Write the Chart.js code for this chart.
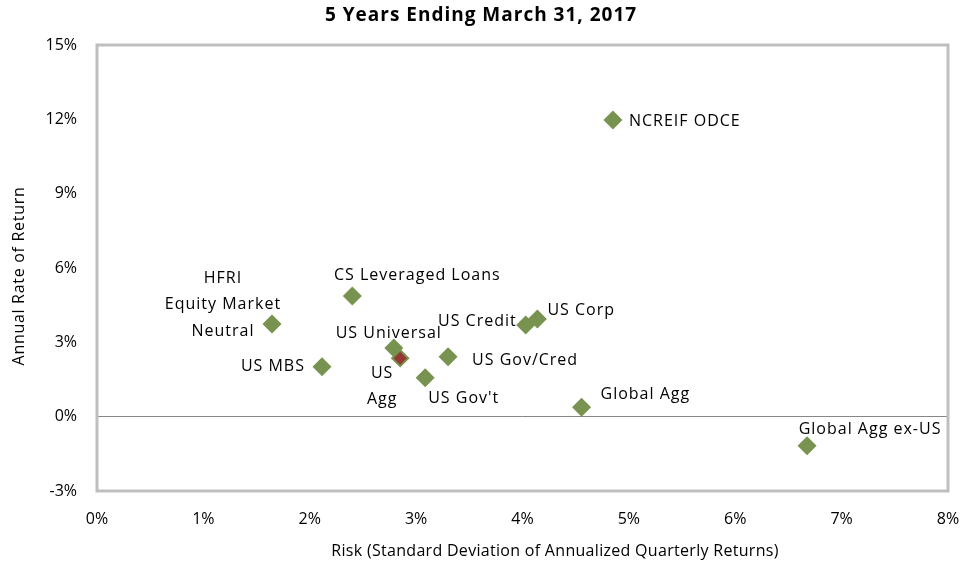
<!DOCTYPE html>
<html>
<head>
<meta charset="utf-8">
<script src="https://cdn.jsdelivr.net/npm/chart.js@4.4.1/dist/chart.umd.min.js"></script>
<style>
  html, body { margin: 0; padding: 0; background: #fff; }
  #wrap { width: 965px; height: 568px; position: relative; }
</style>
</head>
<body>
<div id="wrap"><canvas id="c" width="965" height="568"></canvas></div>
<script>
// ---- Data ----
const chartTitle = '5 Years Ending March 31, 2017';
const xAxisTitle = 'Risk (Standard Deviation of Annualized Quarterly Returns)';
const yAxisTitle = 'Annual Rate of Return';

const assetNames  = ['NCREIF ODCE', 'CS Leveraged Loans', 'HFRI Equity Market Neutral', 'US MBS', 'US Universal', 'US Gov/Cred', "US Gov't", 'US Credit', 'US Corp', 'Global Agg', 'Global Agg ex-US'];
const assetRisk   = [4.85, 2.40, 1.645, 2.115, 2.79, 3.30, 3.085, 4.03, 4.14, 4.555, 6.675];
const assetReturn = [11.97, 4.87, 3.74, 2.01, 2.77, 2.42, 1.57, 3.70, 3.94, 0.38, -1.17];

const benchNames  = ['US Agg'];
const benchRisk   = [2.85];
const benchReturn = [2.36];

const xTicks = [0, 1, 2, 3, 4, 5, 6, 7, 8];
const yTicks = [-3, 0, 3, 6, 9, 12, 15];

// label text lines (text content)
const labelLines = {
  'HFRI Equity Market Neutral': ['HFRI', 'Equity Market', 'Neutral'],
  'US Agg': ['US', 'Agg']
};

// ---- Label placement (style, px offsets from the point) ----
const labelPlace = {
  'NCREIF ODCE':               { dx: 16,  dy: 1,   align: 'left' },
  'CS Leveraged Loans':        { dx: 65,  dy: -21, align: 'center' },
  'HFRI Equity Market Neutral':{ dx: -49, dy: -46, align: 'center', lh: 26.5 },
  'US MBS':                    { dx: -17, dy: 0,   align: 'right' },
  'US Universal':              { dx: -5,  dy: -15, align: 'center' },
  'US Gov/Cred':               { dx: 24,  dy: 4,   align: 'left' },
  "US Gov't":                  { dx: 3,   dy: 21,  align: 'left' },
  'US Credit':                 { dx: -9,  dy: -4,  align: 'right' },
  'US Corp':                   { dx: 10,  dy: -9,  align: 'left' },
  'Global Agg':                { dx: 19,  dy: -13, align: 'left' },
  'Global Agg ex-US':          { dx: 63,  dy: -16, align: 'center' },
  'US Agg':                    { dx: -18, dy: 15,  align: 'center', lh: 26.5 }
};

const FONT = '"Open Sans", "DejaVu Sans", sans-serif';
const green = '#78924F';
const red = '#953735';

function toPts(xs, ys) { return xs.map((x, i) => ({ x: x, y: ys[i] })); }

const labelPlugin = {
  id: 'customText',
  beforeDatasetsDraw(chart) {
    const { ctx, chartArea: a } = chart;
    ctx.save();
    ctx.strokeStyle = '#BFBFBF';
    ctx.lineWidth = 3;
    ctx.strokeRect(a.left, a.top, a.right - a.left, a.bottom - a.top);
    ctx.restore();
  },
  afterDraw(chart) {
    const { ctx } = chart;
    const xs = chart.scales.x, ys = chart.scales.y;
    ctx.save();
    ctx.fillStyle = '#000';
    ctx.textBaseline = 'middle';
    ctx.textAlign = 'center';
    // title
    ctx.font = 'bold 19px ' + FONT;
    ctx.letterSpacing = '1px';
    ctx.fillText(chartTitle, 481, 16);
    // axis titles
    ctx.font = '16px ' + FONT;
    ctx.letterSpacing = '0.3px';
    ctx.fillText(xAxisTitle, 555, 551);
    ctx.save();
    ctx.translate(19, 276);
    ctx.rotate(-Math.PI / 2);
    ctx.letterSpacing = '0.7px';
    ctx.fillText(yAxisTitle, 0, 0);
    ctx.restore();
    // point labels
    const all = [
      ...assetNames.map((n, i) => ({ n, x: assetRisk[i], y: assetReturn[i] })),
      ...benchNames.map((n, i) => ({ n, x: benchRisk[i], y: benchReturn[i] }))
    ];
    ctx.font = '16px ' + FONT;
    ctx.letterSpacing = '1px';
    all.forEach(p => {
      const pl = labelPlace[p.n];
      const lines = labelLines[p.n] || [p.n];
      const px = xs.getPixelForValue(p.x) + pl.dx;
      const py = ys.getPixelForValue(p.y) + pl.dy;
      ctx.textAlign = pl.align;
      lines.forEach((ln, k) => {
        ctx.fillText(ln, px, py + k * (pl.lh || 0));
      });
    });
    ctx.restore();
  }
};

new Chart(document.getElementById('c'), {
  type: 'scatter',
  data: {
    datasets: [
      {
        label: 'US Agg',
        data: toPts(benchRisk, benchReturn),
        pointStyle: 'rectRot',
        pointRadius: 8,
        pointHoverRadius: 8,
        backgroundColor: red,
        borderColor: green,
        borderWidth: 2
      },
      {
        label: 'Indices',
        data: toPts(assetRisk, assetReturn),
        pointStyle: 'rectRot',
        pointRadius: 9.5,
        pointHoverRadius: 9.5,
        backgroundColor: green,
        borderColor: green,
        borderWidth: 0
      }
    ]
  },
  options: {
    responsive: false,
    animation: false,
    events: [],
    layout: { padding: { top: 45, right: 17, left: 0, bottom: 0 } },
    plugins: {
      legend: { display: false },
      tooltip: { enabled: false },
      title: { display: false }
    },
    scales: {
      x: {
        type: 'linear',
        min: 0, max: 8,
        afterFit(s) {
          s.height = 77;
          s.paddingLeft = 0; s.paddingRight = 0;
        },
        afterBuildTicks(s) { s.ticks = xTicks.map(v => ({ value: v })); },
        border: { display: false },
        grid: { display: false, drawTicks: false },
        ticks: {
          padding: 19,
          color: '#000',
          font: { family: FONT, size: 16 },
          callback: v => v + '%'
        }
      },
      y: {
        type: 'linear',
        min: -3, max: 15,
        afterFit(s) {
          s.width = 97;
          s.paddingTop = 0; s.paddingBottom = 0;
        },
        afterBuildTicks(s) { s.ticks = yTicks.map(v => ({ value: v })); },
        border: { display: false },
        grid: {
          drawTicks: false,
          color: c => (c.tick && c.tick.value === 0 ? '#868686' : 'rgba(0,0,0,0)'),
          lineWidth: 1
        },
        ticks: {
          padding: 20,
          color: '#000',
          font: { family: FONT, size: 16 },
          callback: v => v + '%'
        }
      }
    }
  },
  plugins: [labelPlugin]
});
</script>
</body>
</html>
